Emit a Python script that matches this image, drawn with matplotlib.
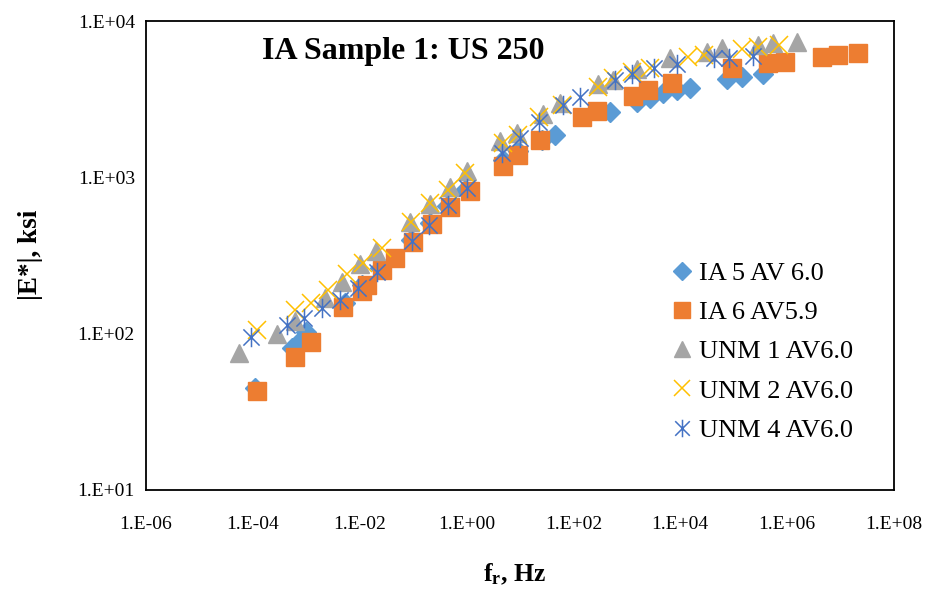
import numpy as np
import matplotlib.pyplot as plt
from matplotlib.path import Path
from matplotlib.ticker import LogLocator, FuncFormatter

plt.rcParams['font.family'] = ['Liberation Serif', 'DejaVu Serif']
plt.rcParams['mathtext.fontset'] = 'custom'
plt.rcParams['mathtext.rm'] = 'Liberation Serif'
plt.rcParams['mathtext.bf'] = 'Liberation Serif:bold'

# reduced frequency (Hz) and |E*| (ksi)
ia5_f = [1.1e-4, 5.4e-4, 8.3e-4, 1.0e-3, 5.2e-3, 1.1e-2, 2.4e-2, 9.1e-2, 0.21, 0.43, 0.93,
         4.8, 9.1, 25.7, 45.7, 479, 1550, 2690, 4790, 8710, 15100, 74100, 1.41e5, 3.55e5]
ia5_e = [45, 81, 93, 102, 158, 204, 263, 398, 513, 660, 832,
         1290, 1480, 1740, 1860, 2630, 3020, 3240, 3470, 3630, 3720, 4270, 4370, 4570]

ia6_f = [1.2e-4, 6.2e-4, 1.23e-3, 4.9e-3, 1.1e-2, 1.38e-2, 2.6e-2, 4.6e-2, 0.1, 0.224, 0.49, 1.15,
         4.8, 9.1, 23.4, 145, 275, 1290, 2500, 6900, 9.3e4, 4.4e5, 9.1e5, 4.5e6, 8.9e6, 2.1e7]
ia6_e = [43, 71, 88, 148, 187, 205, 256, 304, 387, 500, 645, 815,
         1180, 1390, 1730, 2430, 2650, 3310, 3620, 4000, 5000, 5380, 5470, 5880, 6050, 6240]

unm1_f = [5.5e-5, 2.8e-4, 6.2e-4, 2.2e-3, 4.7e-3, 1.0e-2, 2.0e-2, 8.7e-2, 0.21, 0.49, 1.02,
          4.3, 8.7, 27, 56, 290, 550, 1550, 6500, 3.2e4, 6.0e4, 2.8e5, 5.4e5, 1.5e6]
unm1_e = [75, 100, 120, 170, 214, 280, 340, 520, 675, 870, 1100,
          1700, 1920, 2530, 3000, 3960, 4200, 4930, 5800, 6330, 6720, 7020, 7230, 7330]

unm2_f = [1.2e-4, 6.2e-4, 1.2e-3, 2.5e-3, 5.8e-3, 1.15e-2, 2.6e-2, 9.2e-2, 0.21, 0.45, 0.93,
          4.8, 9.1, 23, 62, 290, 550, 1260, 2700, 1.4e4, 2.8e4, 1.4e5, 2.8e5, 7.1e5]
unm2_e = [105, 141, 158, 190, 240, 283, 355, 520, 690, 830, 1070,
          1660, 1870, 2430, 2900, 3780, 4320, 4720, 5000, 5880, 6060, 6620, 6810, 7020]

unm4_f = [9.3e-5, 4.4e-4, 9.1e-4, 1.95e-3, 4.3e-3, 9.3e-3, 2.1e-2, 9.5e-2, 0.20, 0.45, 1.02,
          4.6, 10, 23, 63, 132, 600, 1260, 3240, 8700, 4.3e4, 8.1e4, 2.3e5]
unm4_e = [95, 114, 126, 145, 165, 196, 247, 390, 498, 664, 854,
          1440, 1780, 2260, 2900, 3260, 4190, 4580, 5000, 5300, 5800, 5800, 5960]

labels = ['IA 5 AV 6.0', 'IA 6 AV5.9', 'UNM 1 AV6.0', 'UNM 2 AV6.0', 'UNM 4 AV6.0']

# excel-like asterisk: an x with a vertical bar
star = Path([(-0.5, -0.5), (0.5, 0.5), (-0.5, 0.5), (0.5, -0.5), (0, -0.6), (0, 0.6)],
            [Path.MOVETO, Path.LINETO, Path.MOVETO, Path.LINETO, Path.MOVETO, Path.LINETO])

fig = plt.figure(figsize=(9.37, 5.95), dpi=100)
ax = fig.add_axes([0.1558, 0.1765, 0.7983, 0.7882])

ax.plot(ia5_f, ia5_e, ls='none', marker='D', ms=10, color='#5B9BD5', mec='#5B9BD5', label=labels[0])
ax.plot(ia6_f, ia6_e, ls='none', marker='s', ms=13, color='#ED7D31', mec='#ED7D31', label=labels[1])
ax.plot(unm1_f, unm1_e, ls='none', marker='^', ms=13.5, color='#A5A5A5', mec='#A5A5A5', label=labels[2])
ax.plot(unm2_f, unm2_e, ls='none', marker='x', ms=13, mew=1.1, color='#FFC000', label=labels[3])
ax.plot(unm4_f, unm4_e, ls='none', marker=star, ms=14, mew=1.1, mfc='none', mec='#4472C4',
        color='#4472C4', label=labels[4])

ax.set_xscale('log')
ax.set_yscale('log')
ax.set_xlim(1e-6, 1e8)
ax.set_ylim(1e1, 1e4)
ax.xaxis.set_major_locator(LogLocator(base=100))
ax.yaxis.set_major_locator(LogLocator(base=10))
ax.xaxis.set_minor_locator(plt.NullLocator())
ax.yaxis.set_minor_locator(plt.NullLocator())
fmt = FuncFormatter(lambda v, p: '1.E%+03d' % int(round(np.log10(v))))
ax.xaxis.set_major_formatter(fmt)
ax.yaxis.set_major_formatter(fmt)
ax.tick_params(length=0, labelsize=14)
ax.tick_params(axis='x', pad=19)
ax.tick_params(axis='y', pad=8)
for s in ax.spines.values():
    s.set_linewidth(1.3)

ax.text(0.155, 0.934, 'IA Sample 1: US 250', transform=ax.transAxes, fontsize=23,
        fontweight='bold', va='center', ha='left')

fig.text(0.549, 0.034, r'$\mathbf{f_r}$, Hz', fontsize=18.5, fontweight='bold', ha='center', va='center')
fig.text(0.033, 0.572, '|E*|, ksi', fontsize=19.5, fontweight='bold', rotation=90, ha='center', va='center')

ax.legend(loc='upper left', bbox_to_anchor=(0.7035, 0.583), bbox_transform=fig.transFigure,
          frameon=False, fontsize=19, handlelength=0.7, handletextpad=0.3,
          labelspacing=0.6, borderpad=0, markerscale=0.9)

fig.savefig('out.png', dpi=100)
